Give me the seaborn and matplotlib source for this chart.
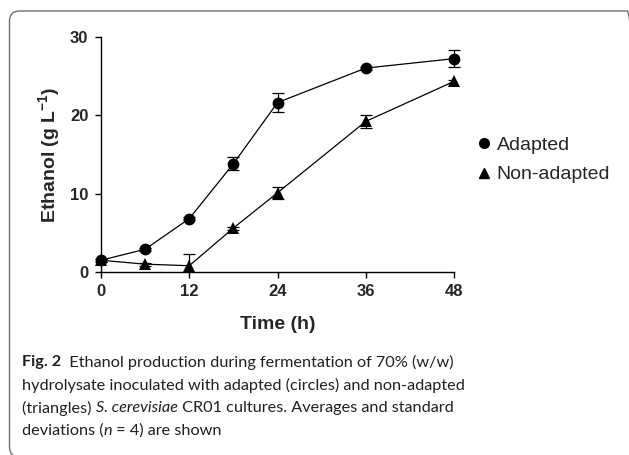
import numpy as np
import pandas as pd
import matplotlib
matplotlib.use("Agg")
import matplotlib.pyplot as plt
import seaborn as sns
from matplotlib.patches import FancyBboxPatch
from matplotlib.lines import Line2D
from matplotlib.transforms import IdentityTransform

# ---- data ----
time_h = [0, 6, 12, 18, 24, 36, 48]
adapted = [1.5, 2.9, 6.8, 13.8, 21.6, 26.0, 27.2]
adapted_sd = [0.2, 0.2, 0.2, 0.85, 1.2, 0.2, 1.1]
non_adapted = [1.5, 1.0, 0.8, 5.6, 10.1, 19.2, 24.3]
non_adapted_sd = [0.2, 0.2, 1.5, 0.2, 0.75, 0.8, 0.2]
series_names = ["Adapted", "Non-adapted"]
x_ticks = [0, 12, 24, 36, 48]
y_ticks = [0, 10, 20, 30]
caption_lines = [
    [("Fig. 2", "bold", "normal"), ("  Ethanol production during fermentation of 70% (w/w)", "normal", "normal")],
    [("hydrolysate inoculated with adapted (circles) and non-adapted", "normal", "normal")],
    [("(triangles) ", "normal", "normal"), ("S. cerevisiae", "normal", "italic"),
     (" CR01 cultures. Averages and standard", "normal", "normal")],
    [("deviations (", "normal", "normal"), ("n", "normal", "italic"), (" = 4) are shown", "normal", "normal")],
]

df = pd.DataFrame({
    "Time": time_h * 2,
    "Ethanol": adapted + non_adapted,
    "Culture": [series_names[0]] * len(time_h) + [series_names[1]] * len(time_h),
})

sns.set_style("ticks")
plt.rcParams["font.family"] = ["Liberation Sans", "DejaVu Sans"]
plt.rcParams["mathtext.fontset"] = "custom"
plt.rcParams["mathtext.rm"] = "Liberation Sans:bold"
plt.rcParams["mathtext.bf"] = "Liberation Sans:bold"
plt.rcParams["mathtext.it"] = "Liberation Sans:bold"

W, H = 629, 455
fig = plt.figure(figsize=(W / 100, H / 100), dpi=100)

# rounded frame (pixel coordinates, origin bottom-left)
fl, fr, ft, fb = 9.5, 637.0, 11.0, 457.0
frame = FancyBboxPatch((fl, H - fb), fr - fl, fb - ft,
                       boxstyle="round,pad=0,rounding_size=10",
                       transform=IdentityTransform(), facecolor="none",
                       edgecolor="#6e6e6e", linewidth=1.0, clip_on=False)
fig.patches.append(frame)

ax_left, ax_right = 101, 454
ax_top, ax_bottom = 36.7, 272
ax = fig.add_axes([ax_left / W, (H - ax_bottom) / H, (ax_right - ax_left) / W, (ax_bottom - ax_top) / H])

sns.lineplot(data=df, x="Time", y="Ethanol", style="Culture",
             markers={series_names[0]: "o", series_names[1]: "^"}, dashes=False,
             color="black", linewidth=0.9, markersize=8.5, markeredgewidth=0,
             ax=ax, legend=False, zorder=3)
for line in ax.lines:
    line.set_clip_on(False)

ax.errorbar(time_h, adapted, yerr=adapted_sd, fmt="none", ecolor="black",
            elinewidth=0.9, capsize=4, capthick=0.9, clip_on=False, zorder=2)
ax.errorbar(time_h, non_adapted, yerr=non_adapted_sd, fmt="none", ecolor="black",
            elinewidth=0.9, capsize=4, capthick=0.9, clip_on=True, zorder=2)

ax.set_xlim(0, 48)
ax.set_ylim(0, 30)
ax.set_xticks(x_ticks)
ax.set_yticks(y_ticks)
ax.set_xticklabels([str(v) for v in x_ticks], fontsize=12, fontweight="bold")
ax.set_yticklabels([str(v) for v in y_ticks], fontsize=12, fontweight="bold")
ax.tick_params(axis="x", direction="out", length=4, width=1, color="black", pad=5)
ax.tick_params(axis="y", direction="out", length=4, width=1, color="black", pad=5)
sns.despine(ax=ax)
for s in ("left", "bottom"):
    ax.spines[s].set_linewidth(1.0)
    ax.spines[s].set_color("black")

ax.set_xlabel("Time (h)", fontsize=14, fontweight="bold", labelpad=12)
ax.set_ylabel(r"Ethanol (g L$^{-1}$)", fontsize=14, fontweight="bold", labelpad=6)

handles = [Line2D([], [], linestyle="none", marker="o", color="black", markersize=7),
           Line2D([], [], linestyle="none", marker="^", color="black", markersize=6.5)]
fig.legend(handles, series_names, loc="center left", bbox_to_anchor=(478 / W, 1 - 160 / H),
           frameon=False, fontsize=14, handlelength=0.6, handletextpad=0.35,
           labelspacing=0.6, borderpad=0, borderaxespad=0)

# caption
fig.canvas.draw()
renderer = fig.canvas.get_renderer()
cap_family = ["Lato", "DejaVu Sans"]
probe = fig.text(0, 0, caption_lines[1][0][0], fontsize=12, family=cap_family)
wpx = probe.get_window_extent(renderer).width
probe.remove()
cap_size = 12 * 441 / wpx
line_y = [362, 385, 408, 431]
for runs, yc in zip(caption_lines, line_y):
    x = 22
    for txt, weight, style in runs:
        t = fig.text(x / W, 1 - yc / H, txt, fontsize=cap_size, family=cap_family,
                     fontweight=weight, fontstyle=style, va="center", ha="left", color="#231f20")
        x += t.get_window_extent(renderer).width

fig.savefig("out.png", dpi=100)
